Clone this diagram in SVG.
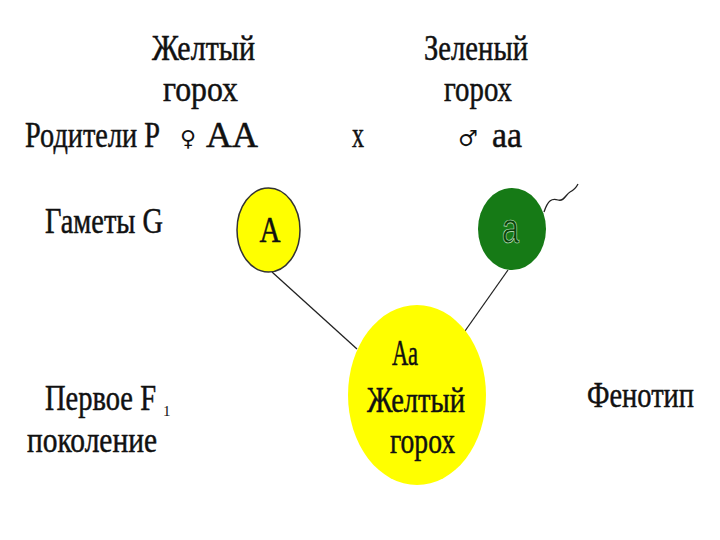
<svg xmlns="http://www.w3.org/2000/svg" width="720" height="540" viewBox="0 0 720 540">
<style>
text{font-family:"Liberation Serif","Times New Roman",serif;fill:#111;}
.t{font-size:36px;stroke:#111;stroke-width:0.5;}
.sym{font-size:22px;font-family:"DejaVu Serif","DejaVu Sans",serif;}
.edge{stroke:#222;stroke-width:1.3;fill:none;}
</style>
<rect width="720" height="540" fill="#fff"/>
<g id="parents">
<text class="t" transform="translate(152,60) scale(0.8,1)" textLength="128.75" lengthAdjust="spacingAndGlyphs">Желтый</text>
<text class="t" transform="translate(163,101) scale(0.8,1)" textLength="93.75" lengthAdjust="spacingAndGlyphs">горох</text>
<text class="t" transform="translate(424,60) scale(0.8,1)" textLength="130" lengthAdjust="spacingAndGlyphs">Зеленый</text>
<text class="t" transform="translate(444,101) scale(0.8,1)" textLength="85" lengthAdjust="spacingAndGlyphs">горох</text>
<text class="t" transform="translate(25,147) scale(0.8,1)" textLength="168.75" lengthAdjust="spacingAndGlyphs">Родители Р</text>
<text class="sym" x="180" y="146">♀</text>
<text class="t" transform="translate(206,147) scale(0.8,1)" textLength="65" lengthAdjust="spacingAndGlyphs">АА</text>
<text class="t" transform="translate(352,147) scale(0.8,1)" textLength="15" lengthAdjust="spacingAndGlyphs">x</text>
<text class="sym" x="458" y="146">♂</text>
<text class="t" transform="translate(492,147) scale(0.8,1)" textLength="37.5" lengthAdjust="spacingAndGlyphs">аа</text>
</g>
<g id="labels">
<text class="t" transform="translate(45,233) scale(0.8,1)" textLength="147.5" lengthAdjust="spacingAndGlyphs">Гаметы G</text>
<text class="t" transform="translate(45,410) scale(0.8,1)" textLength="138.75" lengthAdjust="spacingAndGlyphs">Первое F</text>
<text style="font-size:15px" x="163" y="416">1</text>
<text class="t" transform="translate(27,452) scale(0.8,1)" textLength="162.5" lengthAdjust="spacingAndGlyphs">поколение</text>
<text class="t" transform="translate(587,407) scale(0.8,1)" textLength="133.75" lengthAdjust="spacingAndGlyphs">Фенотип</text>
</g>
<g id="connectors">
<line class="edge" x1="272" y1="272" x2="357" y2="349"/>
<line class="edge" x1="508" y1="270" x2="465" y2="331"/>
<path class="edge" d="M544,212 C548,200 552,198 558,200 C564,202 566,194 570,192 C574,190 576,188 578,184"/>
</g>
<g id="gamete-A">
<ellipse cx="268.5" cy="230" rx="31.5" ry="42" fill="#ffff00" stroke="#333" stroke-width="1.5"/>
<text class="t" transform="translate(270,242) scale(0.8,1)" text-anchor="middle" textLength="26.25" lengthAdjust="spacingAndGlyphs">A</text>
</g>
<g id="gamete-a">
<ellipse cx="512" cy="229" rx="34" ry="41" fill="#167a16"/>
<text transform="translate(502,243) scale(0.7,1)" textLength="24.3" lengthAdjust="spacingAndGlyphs" style="font-family:'Liberation Sans',Arial,sans-serif;font-size:42px;fill:#0a3f0a;stroke:#c8e8c8;stroke-width:0.7">a</text>
</g>
<g id="offspring">
<ellipse cx="417" cy="395" rx="69" ry="90" fill="#ffff00"/>
<text class="t" transform="translate(392,365) scale(0.8,1)" textLength="32.5" lengthAdjust="spacingAndGlyphs">Аа</text>
<text class="t" transform="translate(367,412) scale(0.8,1)" textLength="122.5" lengthAdjust="spacingAndGlyphs">Желтый</text>
<text class="t" transform="translate(390,453) scale(0.8,1)" textLength="81.25" lengthAdjust="spacingAndGlyphs">горох</text>
</g>
</svg>
